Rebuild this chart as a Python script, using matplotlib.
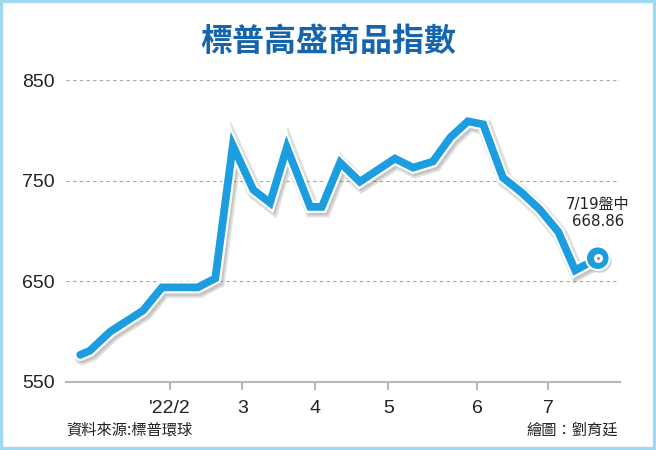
import matplotlib
matplotlib.use("Agg")
from matplotlib import pyplot as plt
from matplotlib import patheffects as pe
from matplotlib.patches import Rectangle

# weekly-ish points, x in month units (2 = Feb 1)
x_vals = [0.77, 0.90, 1.18, 1.63, 1.89, 2.38, 2.62, 2.86, 3.14, 3.37,
          3.60, 3.92, 4.08, 4.33, 4.60, 5.08, 5.33, 5.60, 5.84, 6.08,
          6.29, 6.56, 6.82, 7.07, 7.32, 7.55, 7.86]
index_vals = [577, 581, 600, 621, 644, 644, 653, 785, 741, 728,
              783, 724, 724, 768, 749, 772, 763, 769, 793, 809,
              806, 753, 738, 721, 699, 661, 673]
tick_pos = [2.0, 2.99, 3.99, 4.99, 6.21, 7.18]
tick_labels = ["'22/2", "3", "4", "5", "6", "7"]
y_ticks = [550, 650, 750, 850]

line_blue = "#1b9de0"
title_blue = "#1565ae"
cjk = ["Noto Sans CJK TC", "DejaVu Sans"]

fig = plt.figure(figsize=(6.56, 4.5), dpi=100)
ax = fig.add_axes([66 / 656, 68 / 450, 554 / 656, 312 / 450])

ax.set_xlim(0.575, 8.164)
ax.set_ylim(550, 860)

for y in y_ticks[1:]:
    ax.axhline(y, color="#a8a8a8", lw=0.8, dashes=(3, 3), zorder=1)

ax.plot(x_vals, index_vals, color=line_blue, lw=5.6, solid_joinstyle="miter",
        solid_capstyle="round", zorder=3,
        path_effects=[pe.SimpleLineShadow(offset=(1.5, -2), shadow_color="k",
                                          alpha=0.12, linewidth=11),
                      pe.SimpleLineShadow(offset=(1.5, -2), shadow_color="k",
                                          alpha=0.12, linewidth=8),
                      pe.Stroke(linewidth=8.8, foreground="white"),
                      pe.Normal()])

# end marker
ax.plot(x_vals[-1], index_vals[-1], "o", ms=17, mfc=line_blue, mec="white",
        mew=1.5, zorder=4,
        path_effects=[pe.SimplePatchShadow(offset=(1.5, -2), alpha=0.2),
                      pe.Normal()])
ax.plot(x_vals[-1], index_vals[-1], "o", ms=6.5, mfc="white", mec="none", zorder=5)
ax.plot(x_vals[-1], index_vals[-1], "o", ms=2.2, mfc="#999999", mec="none", zorder=6)

ax.annotate("7/19盤中\n668.86", (x_vals[-1], index_vals[-1]),
            xytext=(0, 21), textcoords="offset points", ha="center",
            va="bottom", fontsize=10.8, linespacing=1.2, color="#222222",
            family=["DejaVu Sans", "Noto Sans CJK TC"])

for s in ["top", "right", "left"]:
    ax.spines[s].set_visible(False)
ax.spines["bottom"].set_color("#b8b8b8")
ax.spines["bottom"].set_linewidth(1.5)

ax.set_yticks(y_ticks)
ax.set_yticklabels([str(v) for v in y_ticks])
ax.tick_params(axis="y", length=0, pad=8, labelsize=14, labelcolor="#222222")
ax.set_xticks(tick_pos)
ax.set_xticklabels(tick_labels)
ax.tick_params(axis="x", length=6, width=1.5, color="#b8b8b8", pad=7,
               labelsize=14, labelcolor="#222222")
for lab in ax.get_xticklabels() + ax.get_yticklabels():
    lab.set_family("Liberation Sans")

fig.text(0.5, 1 - 42 / 450, "標普高盛商品指數", ha="center", va="center",
         fontsize=23, fontweight="bold", color=title_blue, family=cjk)
fig.text(66 / 656, 1 - 430 / 450, "資料來源:標普環球", ha="left", va="center",
         fontsize=11, color="#222222", family=cjk)
fig.text(618 / 656, 1 - 430 / 450, "繪圖：劉育廷", ha="right", va="center",
         fontsize=11, color="#222222", family=cjk)

fig.patches.append(Rectangle((0, 0), 1, 1, transform=fig.transFigure,
                             fill=False, edgecolor="#9fd8f3", lw=4.5))

fig.savefig("out.png", dpi=100)
